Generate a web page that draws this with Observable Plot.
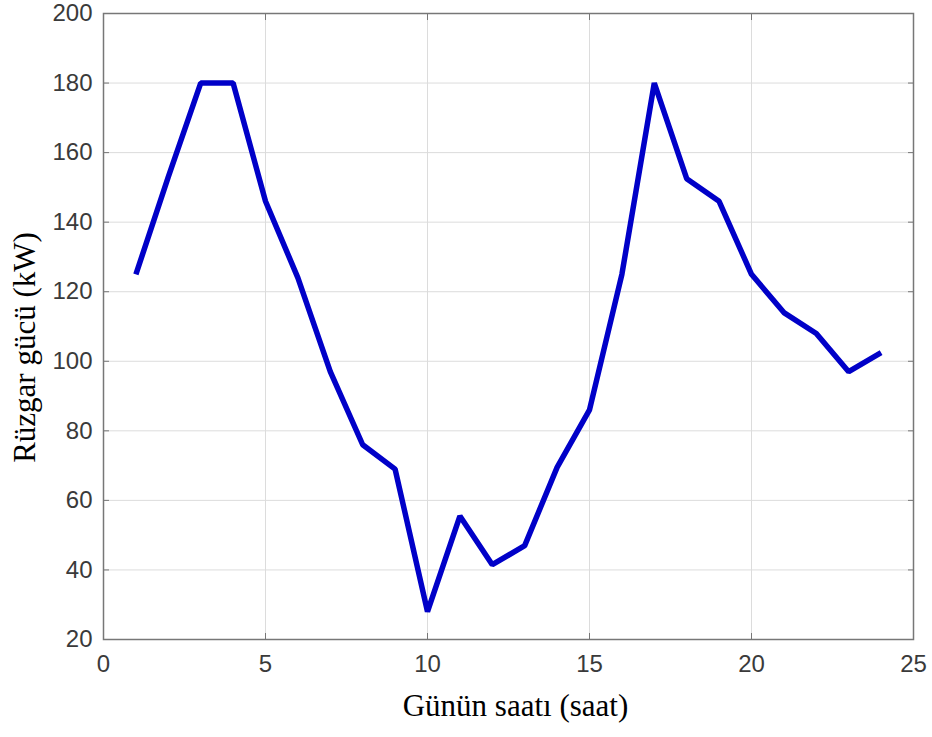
<!DOCTYPE html>
<html>
<head>
<meta charset="utf-8">
<script src="https://cdn.jsdelivr.net/npm/d3@7"></script>
<script src="https://cdn.jsdelivr.net/npm/@observablehq/plot@0.6"></script>
<style>
  html, body { margin: 0; padding: 0; background: #fff; }
  #chart svg { display: block; }
  #chart g[aria-label$="tick label"] { font-size: 24px !important; font-family: 'Liberation Sans', Arial, sans-serif; }
</style>
</head>
<body>
<div id="chart"></div>
<script>
const hours = [1, 2, 3, 4, 5, 6, 7, 8, 9, 10, 11, 12, 13, 14, 15, 16, 17, 18, 19, 20, 21, 22, 23, 24];
const power = [125, 153, 180, 180, 146, 124, 97, 76, 69, 28, 55.5, 41.5, 47, 69.5, 86, 125, 180, 152.5, 146, 125, 114, 108, 97, 102.5];
const xTicks = [0, 5, 10, 15, 20, 25];
const yTicks = [20, 40, 60, 80, 100, 120, 140, 160, 180, 200];
const xLabel = "Günün saatı (saat)";
const yLabel = "Rüzgar gücü (kW)";

const data = hours.map((h, i) => ({hour: h, power: power[i]}));

const chart = Plot.plot({
  width: 932,
  height: 737,
  marginLeft: 103,
  marginRight: 19,
  marginTop: 13,
  marginBottom: 98,
  style: {fontFamily: "'Liberation Sans', Arial, sans-serif", fontSize: "24px", color: "#333", background: "#fff"},
  x: {domain: [0, 25], ticks: xTicks},
  y: {domain: [20, 200], ticks: yTicks},
  marks: [
    Plot.gridX(xTicks, {stroke: "#dcdcdc", strokeOpacity: 1, strokeWidth: 1}),
    Plot.gridY(yTicks, {stroke: "#dcdcdc", strokeOpacity: 1, strokeWidth: 1}),
    Plot.axisX(xTicks, {anchor: "bottom", tickSize: -6, text: null, stroke: "#777", label: null}),
    Plot.axisX(xTicks, {anchor: "top", tickSize: -6, text: null, stroke: "#777", label: null}),
    Plot.axisY(yTicks, {anchor: "left", tickSize: -6, text: null, stroke: "#777", label: null}),
    Plot.axisY(yTicks, {anchor: "right", tickSize: -6, text: null, stroke: "#777", label: null}),
    Plot.axisX(xTicks, {anchor: "bottom", tickSize: 0, tickPadding: 15, label: null, fill: "#3a3a3a", fontSize: 24}),
    Plot.axisY(yTicks, {anchor: "left", tickSize: 0, tickPadding: 11, label: null, fill: "#3a3a3a", fontSize: 24}),
    Plot.frame({stroke: "#777", strokeWidth: 1.5}),
    Plot.line(data, {x: "hour", y: "power", stroke: "#0000c8", strokeWidth: 5.5, strokeLinejoin: "miter", strokeLinecap: "butt"}),
    Plot.text([xLabel], {frameAnchor: "bottom", textAnchor: "middle", dx: 7, dy: 76, fontFamily: "'Liberation Serif', 'Times New Roman', serif", fontSize: 31, fill: "#000"}),
    Plot.text([yLabel], {frameAnchor: "left", textAnchor: "middle", rotate: -90, dx: -78, dy: 21, fontFamily: "'Liberation Serif', 'Times New Roman', serif", fontSize: 31, fill: "#000"})
  ]
});

document.getElementById("chart").appendChild(chart);
</script>
</body>
</html>
